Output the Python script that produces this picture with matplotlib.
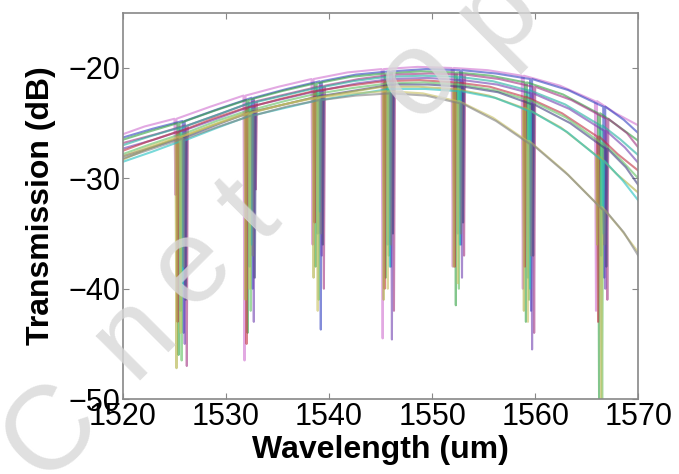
import numpy as np
import matplotlib
matplotlib.use("Agg")
import matplotlib.pyplot as plt

plt.rcParams["font.family"] = ["Liberation Sans", "DejaVu Sans"]

# wavelength grid (nm); dips sit at every other interior point
grid_wl = [1520, 1522.6, 1525.6, 1529.0, 1532.3, 1535.6, 1538.9, 1542.3, 1545.7,
           1549.1, 1552.5, 1555.9, 1559.3, 1562.9, 1566.4, 1568.3, 1570]
dip_idx = [2, 4, 6, 8, 10, 12, 14]

# envelope of each measured device (dB) on grid_wl
env_01 = [-26.0, -25.3, -24.6, -23.5, -22.5, -21.7, -21.0, -20.4, -20.1, -19.9, -20.0, -20.2, -20.7, -21.6, -23.0, -24.1, -25.2]
env_02 = [-26.3, -25.5, -24.8, -23.7, -22.7, -21.9, -21.2, -20.6, -20.3, -20.1, -20.2, -20.5, -21.0, -22.0, -23.5, -24.7, -25.9]
env_03 = [-26.5, -25.8, -25.0, -23.9, -22.9, -22.1, -21.4, -20.8, -20.5, -20.3, -20.4, -20.7, -21.3, -22.4, -24.1, -25.3, -26.6]
env_04 = [-26.8, -26.0, -25.2, -24.1, -23.0, -22.3, -21.6, -21.0, -20.6, -20.5, -20.6, -21.0, -21.7, -22.9, -24.6, -25.9, -27.2]
env_05 = [-27.0, -26.2, -25.4, -24.3, -23.2, -22.5, -21.8, -21.2, -20.8, -20.7, -20.8, -21.2, -22.0, -23.3, -25.2, -26.5, -27.9]
env_06 = [-27.3, -26.5, -25.6, -24.5, -23.4, -22.7, -22.0, -21.4, -21.0, -20.9, -21.1, -21.5, -22.3, -23.7, -25.7, -27.2, -28.6]
env_07 = [-27.5, -26.7, -25.8, -24.6, -23.6, -22.8, -22.1, -21.6, -21.2, -21.1, -21.3, -21.7, -22.6, -24.1, -26.2, -27.8, -29.3]
env_08 = [-27.8, -26.9, -26.0, -24.8, -23.8, -23.0, -22.3, -21.8, -21.4, -21.3, -21.5, -22.0, -22.9, -24.5, -26.8, -28.4, -30.0]
env_09 = [-28.0, -27.1, -26.2, -25.0, -23.9, -23.2, -22.5, -22.0, -21.5, -21.5, -21.7, -22.2, -23.3, -25.0, -27.3, -29.0, -30.6]
env_10 = [-28.3, -27.4, -26.4, -25.2, -24.1, -23.4, -22.7, -22.2, -21.7, -21.7, -21.9, -22.5, -23.6, -25.4, -27.9, -29.6, -31.3]
env_11 = [-28.5, -27.6, -26.6, -25.4, -24.3, -23.6, -22.9, -22.4, -21.9, -21.9, -22.1, -22.7, -23.9, -25.8, -28.4, -30.2, -32.0]
env_12 = [-28.0, -27.1, -26.2, -25.1, -24.1, -23.3, -22.7, -22.3, -22.1, -22.3, -23.0, -24.5, -26.6, -29.4, -32.6, -34.6, -36.7]
env_13 = [-28.2, -27.3, -26.4, -25.3, -24.3, -23.5, -22.9, -22.5, -22.3, -22.5, -23.2, -24.8, -26.9, -29.7, -32.9, -34.9, -37.0]

# resonance dip depth (dB) of each device, one per resonance
dip_01 = [-31.5, -46.5, -36.0, -44.5, -38.0, -40.0, -42.0]
dip_02 = [-44.0, -40.0, -43.7, -38.0, -36.0, -42.0, -39.0]
dip_03 = [-46.0, -44.0, -38.0, -39.0, -41.5, -43.0, -51.0]
dip_04 = [-47.0, -31.0, -40.0, -42.0, -37.0, -44.0, -41.0]
dip_05 = [-42.0, -38.0, -35.0, -36.0, -35.0, -39.0, -37.0]
dip_06 = [-45.0, -43.0, -37.0, -44.6, -39.0, -45.5, -40.0]
dip_07 = [-43.0, -45.0, -34.0, -40.0, -38.0, -38.0, -43.0]
dip_08 = [-46.5, -42.0, -41.0, -37.0, -40.0, -41.0, -51.0]
dip_09 = [-41.0, -39.0, -36.0, -35.0, -34.0, -37.0, -38.0]
dip_10 = [-47.2, -41.0, -39.0, -41.0, -38.0, -42.0, -36.0]
dip_11 = [-40.0, -36.0, -33.0, -38.0, -36.0, -40.0, -35.0]
dip_12 = [-44.0, -40.0, -42.0, -40.0, -39.5, -43.0, -51.0]
dip_13 = [-38.0, -37.0, -35.0, -36.0, -35.0, -37.0, -36.0]

# resonance shift of each device (nm)
shifts = [-0.5, 0.3, -0.2, 0.6, 0.0, 0.4, -0.3, 0.1, 0.5, -0.4, 0.2, 0.0, 0.3]

envelopes = [env_01, env_02, env_03, env_04, env_05, env_06, env_07,
             env_08, env_09, env_10, env_11, env_12, env_13]
dips = [dip_01, dip_02, dip_03, dip_04, dip_05, dip_06, dip_07,
        dip_08, dip_09, dip_10, dip_11, dip_12, dip_13]
colors = ["#d070d0", "#3040c0", "#30a040", "#a03080", "#20b0a0", "#7040b0", "#c03040",
          "#60c060", "#404080", "#b0b040", "#20c0c0", "#c8c060", "#808080"]

# watermark letters
wm_chars = ["C", "n", "e", "t", "o", "p"]

fig = plt.figure(figsize=(6.79, 4.74), dpi=100)
ax = fig.add_axes([0.181, 0.158, 0.759, 0.815])

for env, dep, s, c in zip(envelopes, dips, shifts, colors):
    xs, ys = [], []
    k = 0
    for i, (w, e) in enumerate(zip(grid_wl, env)):
        if 0 < i < len(grid_wl) - 1:
            w = w + s
        if i in dip_idx:
            xs += [w - 0.1, w, w + 0.1]
            ys += [e, dep[k], e]
            k += 1
        else:
            xs.append(w)
            ys.append(e)
    ax.plot(xs, ys, color=c, linewidth=1.5, alpha=0.6)

ax.set_xlim(1520, 1570)
ax.set_ylim(-50, -15)
ax.set_xticks([1520, 1530, 1540, 1550, 1560, 1570])
ax.set_yticks([-50, -40, -30, -20])
ax.tick_params(direction="in", top=True, right=True, labelsize=22, length=4,
               color="#888888", pad=2)
for sp in ax.spines.values():
    sp.set_color("#888888")
    sp.set_linewidth(1.2)
ax.set_xlabel("Wavelength (um)", fontsize=23, fontweight="bold", labelpad=2)
ax.set_ylabel("Transmission (dB)", fontsize=23, fontweight="bold", labelpad=9)

# watermark, letters placed along a 45 degree line (pixel centres)
wm_pos = [(52, 432), (134, 336), (192, 266), (250, 212), (418, 78), (498, 12)]
for ch, (px, py) in zip(wm_chars, wm_pos):
    fig.text(px / 679, 1 - py / 474, ch, fontsize=86, color="#d8d8d8", alpha=0.8,
             rotation=45, rotation_mode="anchor", ha="center", va="center", zorder=10)

fig.savefig("out.png", dpi=100)
